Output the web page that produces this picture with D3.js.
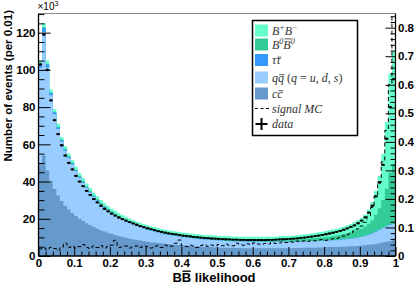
<!DOCTYPE html>
<html>
<head>
<meta charset="utf-8">
<script src="https://cdn.jsdelivr.net/npm/d3@7"></script>
<style>
  html, body { margin: 0; padding: 0; background: #fff; }
  svg { display: block; }
  .tick text { font-family: "Liberation Sans", Arial, sans-serif; font-weight: bold; font-size: 11.5px; fill: #000; }
  .tick line { stroke: #000; stroke-width: 1; }
</style>
</head>
<body>
<div id="chart"></div>
<script>
// bins of 0.01 in BB likelihood
const nBins = 100;
const binEdges = d3.range(nBins + 1).map(i => i / nBins);

// MC components (x10^3 events per bin), stacked bottom -> top
const ccbar = [
  50, 54, 46, 40.5, 36, 32.5, 29.5, 27, 25, 23,
  21.5, 20, 18.8, 17.6, 16.6, 15.6, 14.7, 13.9, 13.2, 12.5,
  11.9, 11.3, 10.8, 10.3, 9.8, 9.4, 9.0, 8.6, 8.3, 8.0,
  7.7, 7.4, 7.2, 7.0, 6.8, 6.6, 6.4, 6.2, 6.0, 5.9,
  5.7, 5.6, 5.5, 5.3, 5.2, 5.1, 5.0, 4.9, 4.8, 4.7,
  4.6, 4.5, 4.5, 4.4, 4.4, 4.3, 4.3, 4.2, 4.2, 4.2,
  4.1, 4.1, 4.1, 4.1, 4.1, 4.1, 4.1, 4.1, 4.2, 4.2,
  4.2, 4.3, 4.3, 4.3, 4.4, 4.4, 4.5, 4.5, 4.6, 4.6,
  4.7, 4.8, 4.8, 4.9, 5.0, 5.0, 5.1, 5.2, 5.3, 5.4,
  5.6, 5.8, 6.0, 6.2, 6.5, 6.8, 7.2, 7.6, 8.1, 8.6
];
const qqbar = [
  51.3, 66.3, 55.3, 45.9, 40.2, 35.8, 32, 29.6, 27.7, 26.2,
  24.0, 22.1, 20.6, 19.0, 17.5, 16.1, 15.0, 13.8, 12.8, 12.0,
  11.2, 10.6, 9.9, 9.4, 8.9, 8.4, 8.0, 7.6, 7.2, 6.8,
  6.4, 6.2, 5.9, 5.6, 5.3, 5.1, 4.9, 4.8, 4.7, 4.5,
  4.4, 4.3, 4.2, 4.1, 4.0, 3.9, 3.8, 3.8, 3.8, 3.8,
  3.7, 3.7, 3.6, 3.6, 3.5, 3.6, 3.5, 3.6, 3.5, 3.5,
  3.5, 3.5, 3.5, 3.4, 3.5, 3.4, 3.5, 3.5, 3.5, 3.5,
  3.5, 3.4, 3.5, 3.5, 3.4, 3.5, 3.5, 3.5, 3.5, 3.5,
  3.5, 3.5, 3.6, 3.6, 3.7, 3.9, 4.0, 4.1, 4.3, 4.5,
  4.7, 5.0, 5.4, 5.9, 6.5, 7.2, 7.8, 8.4, 8.7, 8.6
];
const tautau = [
  1.5, 2.2, 1.5, 1.1, 0.9, 0.8, 0.7, 0.6, 0.55, 0.5,
  0.45, 0.4, 0.4, 0.35, 0.35, 0.3, 0.3, 0.3, 0.3, 0.3,
  0.25, 0.25, 0.25, 0.25, 0.25, 0.25, 0.25, 0.25, 0.25, 0.25,
  0.2, 0.2, 0.2, 0.2, 0.2, 0.2, 0.2, 0.2, 0.2, 0.2,
  0.15, 0.15, 0.15, 0.15, 0.15, 0.15, 0.15, 0.15, 0.15, 0.15,
  0.1, 0.1, 0.1, 0.1, 0.1, 0.1, 0.1, 0.1, 0.1, 0.1,
  0.1, 0.1, 0.1, 0.1, 0.1, 0.1, 0.1, 0.1, 0.1, 0.1,
  0.1, 0.1, 0.1, 0.1, 0.1, 0.1, 0.1, 0.1, 0.1, 0.1,
  0.1, 0.1, 0.1, 0.1, 0.1, 0.1, 0.1, 0.1, 0.1, 0.1,
  0.1, 0.1, 0.1, 0.1, 0.1, 0.1, 0.1, 0.1, 0.1, 0.1
];
const b0b0bar = [
  0.4, 0.5, 0.4, 0.4, 0.4, 0.4, 0.4, 0.4, 0.4, 0.4,
  0.45, 0.45, 0.45, 0.45, 0.45, 0.45, 0.45, 0.45, 0.45, 0.45,
  0.5, 0.5, 0.5, 0.5, 0.5, 0.5, 0.5, 0.5, 0.5, 0.5,
  0.55, 0.55, 0.55, 0.55, 0.55, 0.55, 0.55, 0.55, 0.55, 0.55,
  0.6, 0.6, 0.6, 0.65, 0.65, 0.65, 0.7, 0.7, 0.7, 0.7,
  0.75, 0.75, 0.75, 0.75, 0.75, 0.75, 0.75, 0.75, 0.75, 0.75,
  0.8, 0.8, 0.8, 0.85, 0.85, 0.9, 0.9, 0.95, 0.95, 1.0,
  1.05, 1.1, 1.15, 1.2, 1.3, 1.35, 1.45, 1.55, 1.65, 1.75,
  1.9, 2.0, 2.2, 2.4, 2.6, 2.8, 3.1, 3.4, 3.7, 4.0,
  4.4, 5.0, 5.8, 7.0, 9.0, 11.5, 15, 20, 28, 32
];
const bplusbminus = [
  1.8, 2.0, 1.8, 1.6, 1.5, 1.5, 1.4, 1.4, 1.4, 1.4,
  1.6, 1.6, 1.6, 1.6, 1.6, 1.6, 1.6, 1.6, 1.6, 1.6,
  1.6, 1.6, 1.6, 1.6, 1.6, 1.6, 1.6, 1.6, 1.6, 1.6,
  1.7, 1.7, 1.7, 1.7, 1.7, 1.7, 1.7, 1.7, 1.7, 1.7,
  1.7, 1.7, 1.7, 1.7, 1.7, 1.7, 1.7, 1.7, 1.7, 1.7,
  1.75, 1.75, 1.75, 1.75, 1.75, 1.75, 1.75, 1.75, 1.75, 1.75,
  1.8, 1.8, 1.8, 1.85, 1.85, 1.9, 1.9, 1.95, 2.0, 2.0,
  2.05, 2.1, 2.2, 2.3, 2.4, 2.5, 2.6, 2.75, 2.9, 3.05,
  3.2, 3.4, 3.5, 3.7, 3.8, 4.0, 4.2, 4.5, 4.8, 5.2,
  5.7, 6.4, 7.7, 9.8, 12.9, 17.4, 24.9, 35.9, 53.1, 60.7
];

// data (x10^3 events per bin)
const dataCounts = [
  103, 119, 100, 83.6, 73, 65.5, 59.5, 54, 50, 46.5,
  43, 40, 37.5, 35, 32.8, 30.6, 28.8, 27.0, 25.4, 24.0,
  22.8, 21.7, 20.7, 19.8, 19.0, 18.2, 17.5, 16.8, 16.1, 15.5,
  14.9, 14.4, 13.9, 13.4, 13.0, 12.6, 12.2, 11.9, 11.6, 11.3,
  11.0, 10.8, 10.5, 10.3, 10.1, 9.9, 9.7, 9.6, 9.4, 9.3,
  9.2, 9.1, 9.0, 8.9, 8.8, 8.8, 8.7, 8.7, 8.6, 8.6,
  8.6, 8.6, 8.6, 8.6, 8.7, 8.7, 8.8, 8.9, 9.0, 9.1,
  9.2, 9.3, 9.5, 9.7, 9.9, 10.1, 10.4, 10.7, 11.0, 11.3,
  11.7, 12.1, 12.5, 13.0, 13.5, 14.1, 14.8, 15.6, 16.5, 17.6,
  19.0, 20.8, 23.3, 27, 32, 39.5, 49, 63, 80, 95
];

// signal MC, normalised (right axis)
const signalMC = [
  0.025, 0.028, 0.022, 0.030, 0.026, 0.020, 0.032, 0.045, 0.030, 0.035,
  0.028, 0.033, 0.040, 0.030, 0.026, 0.035, 0.030, 0.036, 0.028, 0.033,
  0.038, 0.055, 0.030, 0.032, 0.035, 0.028, 0.032, 0.035, 0.030, 0.036,
  0.033, 0.028, 0.034, 0.036, 0.030, 0.038, 0.033, 0.035, 0.045, 0.056,
  0.036, 0.033, 0.038, 0.035, 0.030, 0.037, 0.040, 0.034, 0.038, 0.035,
  0.040, 0.036, 0.042, 0.038, 0.036, 0.045, 0.040, 0.038, 0.043, 0.040,
  0.046, 0.042, 0.040, 0.044, 0.042, 0.048, 0.044, 0.046, 0.050, 0.047,
  0.050, 0.048, 0.052, 0.050, 0.053, 0.051, 0.055, 0.053, 0.056, 0.058,
  0.055, 0.058, 0.060, 0.062, 0.065, 0.070, 0.075, 0.080, 0.088, 0.095,
  0.105, 0.118, 0.140, 0.170, 0.210, 0.260, 0.330, 0.440, 0.600, 0.840
];

// tick labels
const xTicks = [0, 0.1, 0.2, 0.3, 0.4, 0.5, 0.6, 0.7, 0.8, 0.9, 1];
const xTickLabels = ["0", "0.1", "0.2", "0.3", "0.4", "0.5", "0.6", "0.7", "0.8", "0.9", "1"];
const yLeftTicks = [0, 20, 40, 60, 80, 100, 120];
const yRightTicks = [0, 0.1, 0.2, 0.3, 0.4, 0.5, 0.6, 0.7, 0.8];
const yRightTickLabels = ["0", "0.1", "0.2", "0.3", "0.4", "0.5", "0.6", "0.7", "0.8"];

const colors = { cc: "#6699cc", qq: "#99ccff", tt: "#3399ff", b0: "#33cc99", bp: "#66ffcc" };

const width = 415, height = 284;
const frame = { left: 38.5, right: 395.5, top: 13.5, bottom: 256 };

const svg = d3.select("#chart").append("svg")
  .attr("width", width)
  .attr("height", height)
  .attr("viewBox", `0 0 ${width} ${height}`);

const x = d3.scaleLinear().domain([0, 1]).range([frame.left, frame.right]);
const yL = d3.scaleLinear().domain([0, 130.3]).range([frame.bottom, frame.top]);
const yR = d3.scaleLinear().domain([0, 0.8497]).range([frame.bottom, frame.top]);

svg.append("clipPath").attr("id", "clip")
  .append("rect")
  .attr("x", frame.left).attr("y", frame.top)
  .attr("width", frame.right - frame.left).attr("height", frame.bottom - frame.top);

const plot = svg.append("g").attr("clip-path", "url(#clip)");

// stacked MC
const rows = d3.range(nBins).map(i => ({
  cc: ccbar[i], qq: qqbar[i], tt: tautau[i], b0: b0b0bar[i], bp: bplusbminus[i]
}));
const layers = d3.stack().keys(["cc", "qq", "tt", "b0", "bp"])(rows);

const steps = vals => vals.flatMap((v, i) => [[binEdges[i], v], [binEdges[i + 1], v]]);

const area = d3.area()
  .x(d => x(d[0]))
  .y0(yL(0))
  .y1(d => yL(d[1]));

// draw cumulative tops from the top layer down, like THStack
layers.slice().reverse().forEach(layer => {
  plot.append("path")
    .datum(steps(layer.map(d => d[1])))
    .attr("fill", colors[layer.key])
    .attr("stroke", "none")
    .attr("d", area);
});

// signal MC dashed outline
const sigPts = [[0, 0], ...steps(signalMC), [1, 0]];
plot.append("path")
  .datum(sigPts)
  .attr("fill", "none")
  .attr("stroke", "#000")
  .attr("stroke-width", 1)
  .attr("stroke-dasharray", "4,3")
  .attr("d", d3.line().x(d => x(d[0])).y(d => yR(d[1])));

// data points
const dataG = plot.append("g");
dataCounts.forEach((v, i) => {
  const err = Math.sqrt(v * 1000) / 1000;
  dataG.append("line")
    .attr("x1", x(binEdges[i])).attr("x2", x(binEdges[i + 1]))
    .attr("y1", yL(v)).attr("y2", yL(v))
    .attr("stroke", "#000").attr("stroke-width", 1.8);
  dataG.append("line")
    .attr("x1", x(binEdges[i] + 0.005)).attr("x2", x(binEdges[i] + 0.005))
    .attr("y1", yL(v - err) + 0.8).attr("y2", yL(v + err) - 0.8)
    .attr("stroke", "#000").attr("stroke-width", 1);
});

// axes (ticks point inwards, ROOT style)
const leftMinor = d3.range(0, 131, 5).filter(v => v % 20 !== 0);
svg.append("g").attr("transform", `translate(${frame.left},0)`)
  .call(d3.axisLeft(yL).tickValues(leftMinor).tickSize(-6).tickFormat(""))
  .call(g => g.select(".domain").remove());
svg.append("g").attr("transform", `translate(${frame.left},0)`)
  .call(d3.axisLeft(yL).tickValues(yLeftTicks).tickSize(-12).tickPadding(3).tickFormat(d3.format("d")))
  .call(g => g.select(".domain").remove());

const xMinor = d3.range(0, 51).map(i => i * 0.02).filter(v => Math.abs(v * 10 - Math.round(v * 10)) > 1e-6);
svg.append("g").attr("transform", `translate(0,${frame.bottom})`)
  .call(d3.axisBottom(x).tickValues(xMinor).tickSize(-4.5).tickFormat(""))
  .call(g => g.select(".domain").remove());
svg.append("g").attr("transform", `translate(0,${frame.bottom})`)
  .call(d3.axisBottom(x).tickValues(xTicks).tickSize(-9).tickPadding(3)
    .tickFormat((d, i) => xTickLabels[i]))
  .call(g => g.select(".domain").remove());

const rMinor = d3.range(0, 43).map(i => i * 0.02).filter(v => Math.abs(v * 10 - Math.round(v * 10)) > 1e-6);
svg.append("g").attr("transform", `translate(${frame.right},0)`)
  .call(d3.axisRight(yR).tickValues(rMinor).tickSize(-5).tickFormat(""))
  .call(g => g.select(".domain").remove());
svg.append("g").attr("transform", `translate(${frame.right},0)`)
  .call(d3.axisRight(yR).tickValues(yRightTicks).tickSize(-10).tickPadding(2.5)
    .tickFormat((d, i) => yRightTickLabels[i]))
  .call(g => g.select(".domain").remove());

// frame
svg.append("line").attr("x1", frame.left).attr("x2", frame.right).attr("y1", frame.top).attr("y2", frame.top)
  .attr("stroke", "#888").attr("stroke-width", 1.2);
svg.append("line").attr("x1", frame.left).attr("x2", frame.left).attr("y1", frame.top).attr("y2", frame.bottom)
  .attr("stroke", "#000").attr("stroke-width", 1.3);
svg.append("line").attr("x1", frame.right).attr("x2", frame.right).attr("y1", frame.top).attr("y2", frame.bottom)
  .attr("stroke", "#000").attr("stroke-width", 1.2);
svg.append("line").attr("x1", frame.left).attr("x2", frame.right).attr("y1", frame.bottom).attr("y2", frame.bottom)
  .attr("stroke", "#000").attr("stroke-width", 1.3);

// draws a bar over the first glyph of a tspan
function overline(parent, tspan, slant, width) {
  const e = tspan.node().getExtentOfChar(0);
  parent.append("line")
    .attr("x1", e.x + slant + 0.5).attr("x2", e.x + e.width + slant - 0.3)
    .attr("y1", e.y + e.height * 0.14).attr("y2", e.y + e.height * 0.14)
    .attr("stroke", "#333").attr("stroke-width", width);
}

// x10^3 multiplier
const mult = svg.append("text")
  .attr("x", frame.left - 1).attr("y", 10)
  .style("font-family", "'Liberation Sans', Arial, sans-serif")
  .style("font-size", "10px");
mult.append("tspan").text("\u00d710");
mult.append("tspan").attr("dy", -4).style("font-size", "7px").text("3");

// axis titles
svg.append("text")
  .attr("transform", "translate(12,10) rotate(-90)")
  .attr("text-anchor", "end")
  .style("font-family", "'Liberation Sans', Arial, sans-serif")
  .style("font-weight", "bold")
  .style("font-size", "11.5px")
  .text("Number of events (per 0.01)");

const xt = svg.append("text")
  .attr("x", 214).attr("y", 282)
  .attr("text-anchor", "middle")
  .style("font-family", "'Liberation Sans', Arial, sans-serif")
  .style("font-weight", "bold")
  .style("font-size", "13px");
xt.append("tspan").text("B");
const xtBar = xt.append("tspan").text("B");
xt.append("tspan").text(" likelihood");
{
  const e = xtBar.node().getExtentOfChar(0);
  svg.append("line")
    .attr("x1", e.x + 0.5).attr("x2", e.x + e.width - 0.5)
    .attr("y1", e.y + 1.2).attr("y2", e.y + 1.2)
    .attr("stroke", "#000").attr("stroke-width", 1.3);
}

// legend
const legend = svg.append("g");
legend.append("rect")
  .attr("x", 252.5).attr("y", 20.5).attr("width", 105).attr("height", 115)
  .attr("fill", "#fff").attr("stroke", "#000").attr("stroke-width", 1.5);

const legendRows = [
  { key: "bp", y: 30.5, parts: [["B"], ["+", "sup"], ["B"], ["\u2212", "sup"]] },
  { key: "b0", y: 44.5, parts: [["B"], ["0", "sup"], ["B", "bar"], ["0", "sup"]] },
  { key: "tt", y: 60, parts: [["\u03c4"], ["\u03c4", "bar"]] },
  { key: "qq", y: 77.5, parts: [["q"], ["q", "bar"], [" (", "rm"], ["q"], [" = ", "rm"], ["u, d, s"], [")", "rm"]] },
  { key: "cc", y: 93.5, parts: [["c"], ["c", "bar"]] },
  { key: "sig", y: 108.5, parts: [["signal MC"]] },
  { key: "data", y: 124, parts: [["data"]] }
];

legendRows.forEach(r => {
  if (colors[r.key]) {
    legend.append("rect")
      .attr("x", 255).attr("y", r.y - 6).attr("width", 13).attr("height", 12)
      .attr("fill", colors[r.key]);
  } else if (r.key === "sig") {
    legend.append("line")
      .attr("x1", 255).attr("x2", 269).attr("y1", r.y).attr("y2", r.y)
      .attr("stroke", "#000").attr("stroke-width", 1).attr("stroke-dasharray", "3,2.5");
  } else {
    legend.append("line").attr("x1", 255.5).attr("x2", 267.5).attr("y1", r.y).attr("y2", r.y)
      .attr("stroke", "#000").attr("stroke-width", 2);
    legend.append("line").attr("x1", 261.5).attr("x2", 261.5).attr("y1", r.y - 6).attr("y2", r.y + 6)
      .attr("stroke", "#000").attr("stroke-width", 2);
  }
  const t = legend.append("text")
    .attr("x", 272).attr("y", r.y + 4)
    .style("font-family", "'Liberation Serif', 'Times New Roman', serif")
    .style("font-style", "italic")
    .style("font-size", "12px")
    .attr("fill", "#333");
  let shifted = false;
  const bars = [];
  r.parts.forEach(([s, kind]) => {
    const sp = t.append("tspan").text(s);
    if (kind === "sup") {
      sp.attr("dy", shifted ? 0 : -4.5).style("font-size", "8px");
      shifted = true;
      return;
    }
    if (shifted) { sp.attr("dy", 4.5); shifted = false; }
    if (kind === "bar") bars.push(sp);
    if (kind === "rm") sp.style("font-style", "normal");
  });
  bars.forEach(sp => {
    const e = sp.node().getExtentOfChar(0);
    const lowercase = /[a-z\u03c4]/.test(sp.text());
    const yb = lowercase ? r.y - 2.8 : r.y - 5.6;
    legend.append("line")
      .attr("x1", e.x + 1.2).attr("x2", e.x + e.width + 0.6)
      .attr("y1", yb).attr("y2", yb)
      .attr("stroke", "#333").attr("stroke-width", 0.8);
  });
});
</script>
</body>
</html>
